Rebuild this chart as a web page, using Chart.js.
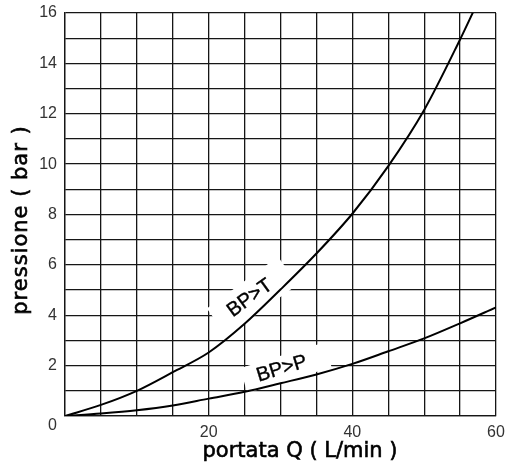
<!DOCTYPE html>
<html>
<head>
<meta charset="utf-8">
<script src="https://cdn.jsdelivr.net/npm/chart.js@4"></script>
<style>
  html, body { margin: 0; padding: 0; background: #ffffff; }
  #wrap { width: 506px; height: 468px; position: relative; }
</style>
</head>
<body>
<div id="wrap"><canvas id="c" width="506" height="468"></canvas></div>
<script>
// ---- data ----
const flowT = [0, 5, 10, 15, 20, 25, 30, 35, 40, 45, 50, 55, 57];          // L/min, curve BP>T
const pressT = [0, 0.44, 1.0, 1.74, 2.52, 3.66, 5.02, 6.45, 8.03, 9.92, 12.15, 14.95, 16.15];
const flowP = [0, 5, 10, 15, 20, 25, 30, 35, 40, 45, 50, 55, 60];          // L/min, curve BP>P
const pressP = [0, 0.1, 0.23, 0.42, 0.69, 0.96, 1.3, 1.65, 2.07, 2.57, 3.08, 3.68, 4.31];
const curveNames = ['BP>T', 'BP>P'];
const xTickLabels = [20, 40, 60];
const yTickLabels = [0, 2, 4, 6, 8, 10, 12, 14, 16];
const xTitle = 'portata Q ( L/min )';
const yTitle = 'pressione ( bar )';

// label placement (style, in data units) for the curve names
const curveLabelStyle = [
  { q: 25.75, p: 4.68, angle: -36, halfLen: 44, halfH: 17, shift: 3 },
  { q: 30.2,  p: 1.87, angle: -17, halfLen: 44, halfH: 13, shift: 4 }
];

const toPts = (xs, ys) => xs.map((x, i) => ({ x: x, y: ys[i] }));
const GRID = '#161616';

const curveLabels = {
  id: 'curveLabels',
  beforeDatasetsDraw(chart) {
    const { ctx, scales: { x, y }, chartArea } = chart;
    ctx.save();
    ctx.beginPath();
    ctx.rect(chartArea.left + 1, chartArea.top + 1, chartArea.right - chartArea.left - 2, chartArea.bottom - chartArea.top - 2);
    ctx.clip();
    curveLabelStyle.forEach(s => {
      const px = x.getPixelForValue(s.q), py = y.getPixelForValue(s.p);
      ctx.save();
      ctx.translate(px, py);
      ctx.rotate(s.angle * Math.PI / 180);
      ctx.fillStyle = '#ffffff';
      ctx.fillRect(-s.halfLen + s.shift, -s.halfH, 2 * s.halfLen, 2 * s.halfH);
      ctx.restore();
    });
    ctx.restore();
  },
  afterDatasetsDraw(chart) {
    const { ctx, scales: { x, y } } = chart;
    ctx.save();
    curveLabelStyle.forEach((s, i) => {
      const px = x.getPixelForValue(s.q), py = y.getPixelForValue(s.p);
      ctx.save();
      ctx.translate(px, py);
      ctx.rotate(s.angle * Math.PI / 180);
      ctx.font = '20px "Liberation Sans", Arial, sans-serif';
      ctx.fillStyle = '#000';
      ctx.strokeStyle = '#000';
      ctx.lineWidth = 0.4;
      ctx.textAlign = 'center';
      ctx.textBaseline = 'middle';
      ctx.fillText(curveNames[i], 0, 0);
      ctx.strokeText(curveNames[i], 0, 0);
      ctx.restore();
    });
    ctx.restore();
  }
};

const axisTitles = {
  id: 'axisTitles',
  afterDraw(chart) {
    const { ctx } = chart;
    ctx.save();
    ctx.font = '21px "DejaVu Sans", sans-serif';
    ctx.fillStyle = '#000';
    ctx.strokeStyle = '#000';
    ctx.lineWidth = 0.6;
    ctx.textAlign = 'center';
    ctx.textBaseline = 'middle';
    ctx.fillText(xTitle, 300, 452);
    ctx.strokeText(xTitle, 300, 452);
    ctx.translate(22, 220);
    ctx.rotate(-Math.PI / 2);
    if ('letterSpacing' in ctx) ctx.letterSpacing = '1px';
    ctx.fillText(yTitle, 0, 0);
    ctx.strokeText(yTitle, 0, 0);
    ctx.restore();
  }
};

new Chart(document.getElementById('c'), {
  type: 'line',
  data: {
    datasets: [
      { label: curveNames[0], data: toPts(flowT, pressT), borderColor: '#000', borderWidth: 2, pointRadius: 0, cubicInterpolationMode: 'monotone', fill: false, clip: 0 },
      { label: curveNames[1], data: toPts(flowP, pressP), borderColor: '#000', borderWidth: 2, pointRadius: 0, cubicInterpolationMode: 'monotone', fill: false, clip: 0 }
    ]
  },
  options: {
    responsive: false,
    animation: false,
    events: [],
    layout: { padding: { top: 13, right: 10, left: 0, bottom: 0 } },
    plugins: { legend: { display: false }, tooltip: { enabled: false }, title: { display: false } },
    scales: {
      x: {
        type: 'linear', min: 0, max: 60,
        afterFit: s => { s.height = 52; s.paddingLeft = 0; s.paddingRight = 0; },
        grid: { color: GRID, lineWidth: 1.3, drawTicks: false },
        border: { display: true, color: GRID, width: 1.3 },
        ticks: {
          stepSize: 5, autoSkip: false, maxRotation: 0, padding: 7,
          color: '#333', font: { family: '"Liberation Sans", Arial, sans-serif', size: 16 },
          callback: v => xTickLabels.includes(v) ? String(v) : ''
        }
      },
      y: {
        type: 'linear', min: 0, max: 16,
        afterFit: s => { s.width = 65; s.paddingTop = 0; s.paddingBottom = 0; },
        grid: { color: GRID, lineWidth: 1.3, drawTicks: false },
        border: { display: true, color: GRID, width: 1.3 },
        ticks: {
          stepSize: 1, autoSkip: false, padding: 8,
          color: '#333', font: { family: '"Liberation Sans", Arial, sans-serif', size: 16 },
          callback: v => v === 0 ? ['', '0'] : (yTickLabels.includes(v) ? String(v) : '')
        }
      }
    }
  },
  plugins: [curveLabels, axisTitles]
});
</script>
</body>
</html>
